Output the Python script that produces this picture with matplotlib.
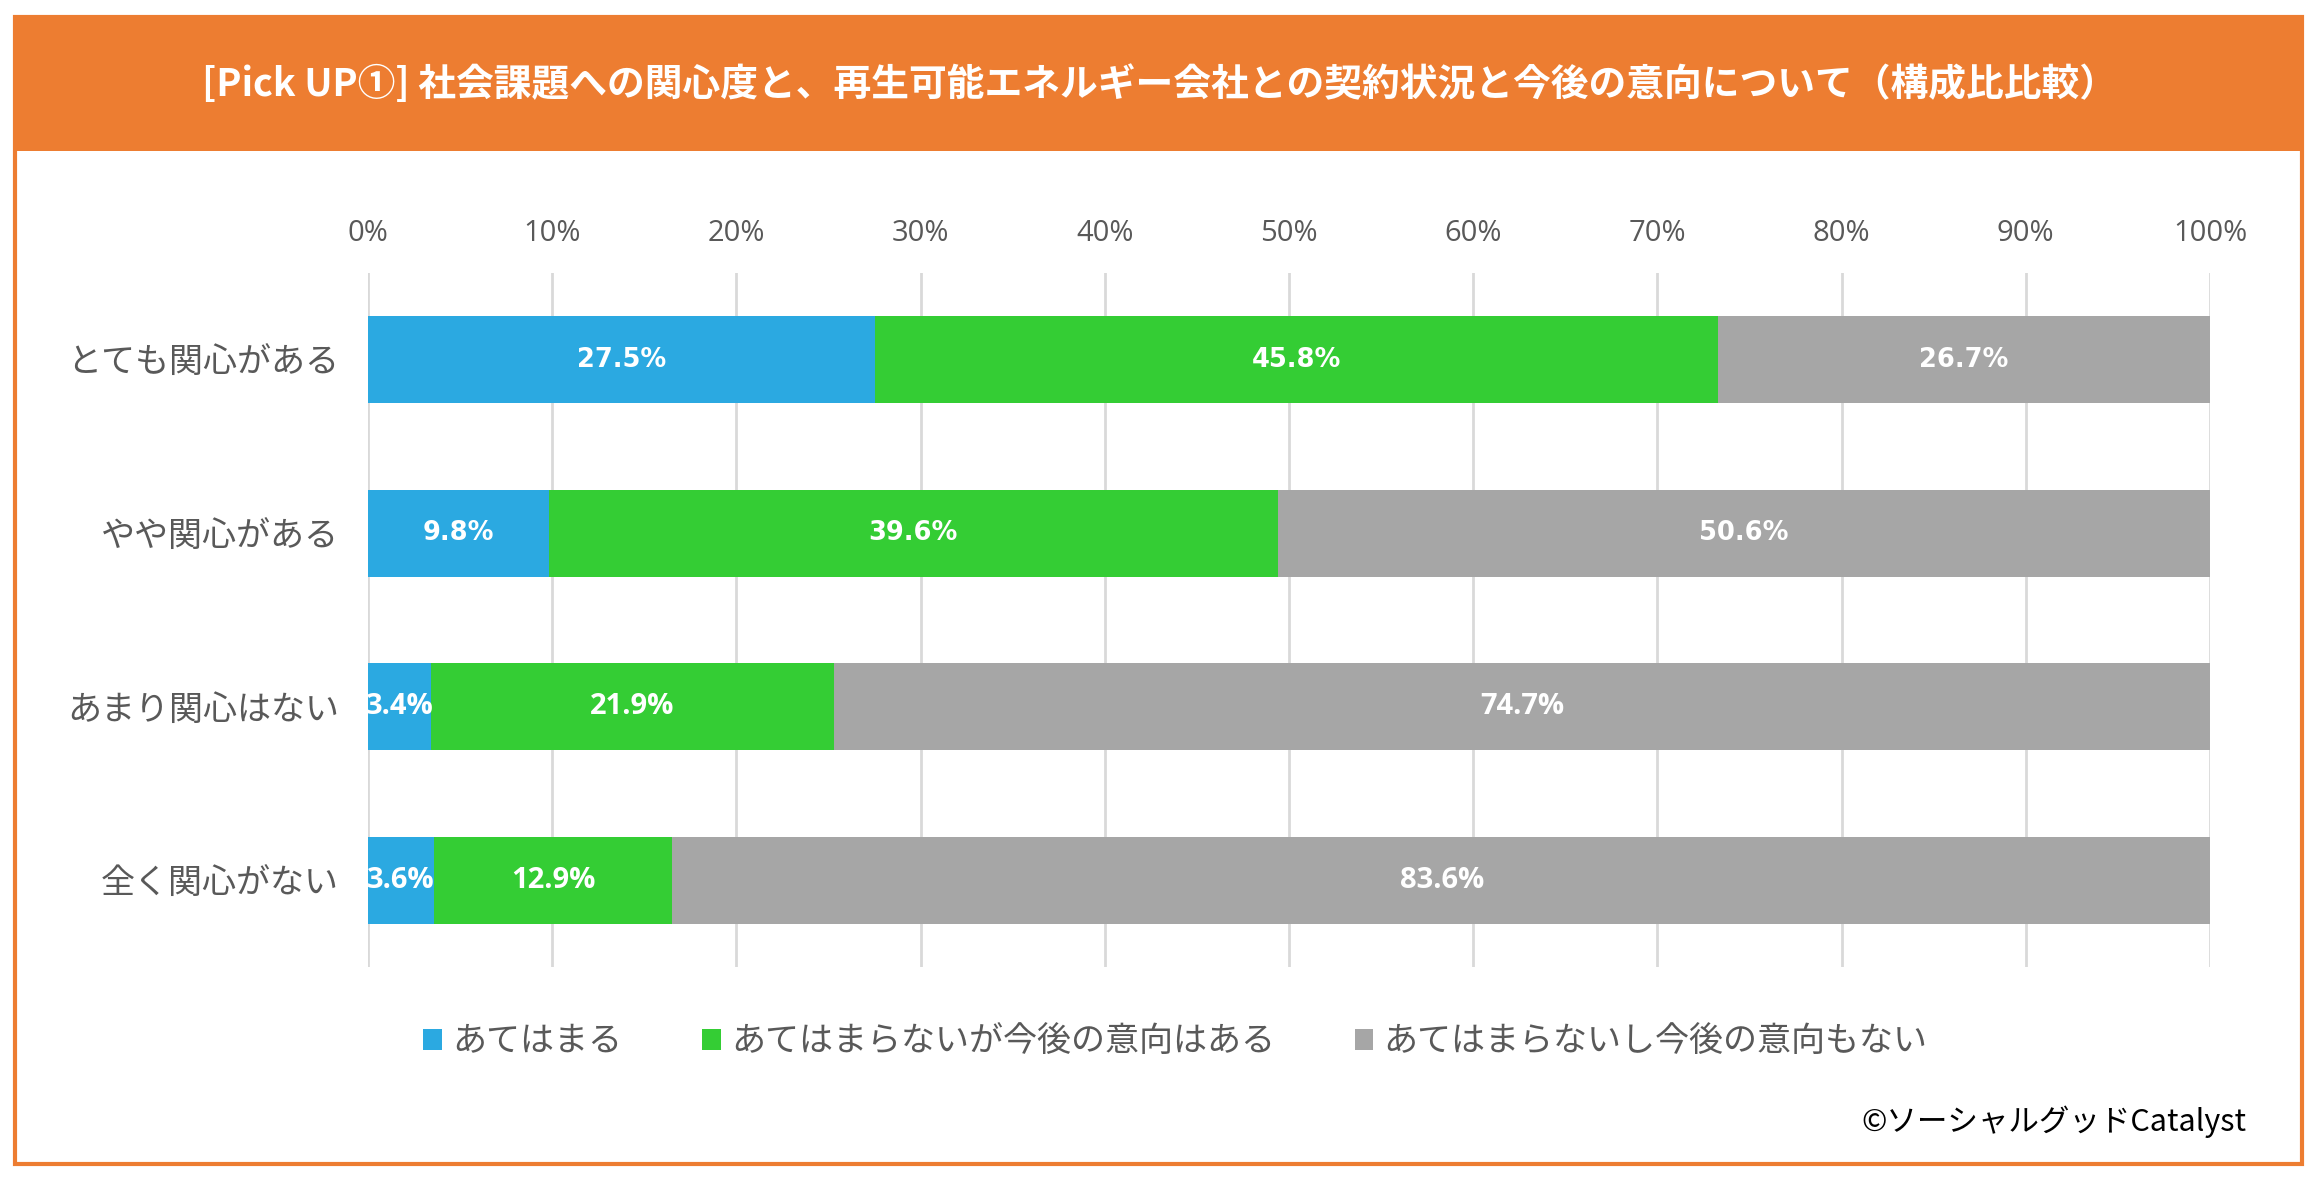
import matplotlib
matplotlib.use("Agg")
import matplotlib.pyplot as plt
from matplotlib.patches import Rectangle, Patch
import numpy as np

# ---- data ----
categories = ["とても関心がある", "やや関心がある", "あまり関心はない", "全く関心がない"]
series_names = ["あてはまる", "あてはまらないが今後の意向はある", "あてはまらないし今後の意向もない"]
v_apply = [27.5, 9.8, 3.4, 3.6]
v_future = [45.8, 39.6, 21.9, 12.9]
v_none = [26.7, 50.6, 74.7, 83.6]
x_ticks = [0, 10, 20, 30, 40, 50, 60, 70, 80, 90, 100]
x_ticklabels = [f"{t}%" for t in x_ticks]
title = "[Pick UP①] 社会課題への関心度と、再生可能エネルギー会社との契約状況と今後の意向について（構成比比較）"
credit = "©ソーシャルグッドCatalyst"

colors = ["#2BA9E1", "#34CD34", "#A6A6A6"]
ORANGE = "#ED7D31"
GRAY_TXT = "#595959"
JP = ["Noto Sans CJK JP", "DejaVu Sans"]

W, H = 2315, 1182
fig = plt.figure(figsize=(W / 100, H / 100), dpi=100)

# frame and header
fig.patches.append(Rectangle((15 / W, 1 - 1164 / H), (2302 - 15) / W, (1164 - 17) / H,
                             transform=fig.transFigure, facecolor="none",
                             edgecolor=ORANGE, linewidth=3, zorder=0))
fig.patches.append(Rectangle((15 / W, 1 - 151 / H), (2302 - 15) / W, (151 - 17) / H,
                             transform=fig.transFigure, facecolor=ORANGE,
                             edgecolor="none", zorder=1))
fig.text(1160 / W, 1 - 84 / H, title, color="white", fontsize=27.2, fontweight="bold",
         family=JP, ha="center", va="center", zorder=3)

ax = fig.add_axes([368 / W, 1 - 967 / H, (2210 - 368) / W, (967 - 273) / H])
ax.set_zorder(5)
ax.patch.set_alpha(0)
y = np.arange(len(categories))
series = [v_apply, v_future, v_none]
left = np.zeros(len(categories))
for vals, col, name in zip(series, colors, series_names):
    ax.barh(y, vals, left=left, height=0.5, color=col, label=name, zorder=3)
    for i, (l, v) in enumerate(zip(left, vals)):
        fam = ["DejaVu Sans"] if i < 2 else ["Open Sans", "DejaVu Sans"]
        fs = 18.5 if i < 2 else 21
        ax.text(l + v / 2, i, f"{v:.1f}%", ha="center", va="center", color="white",
                fontsize=fs, fontweight="bold", family=fam, zorder=4, clip_on=True)
    left = left + np.array(vals)

ax.set_xlim(0, 100)
ax.set_ylim(3.5, -0.5)
ax.set_xticks(x_ticks)
ax.set_xticklabels(x_ticklabels, family=["Open Sans", "DejaVu Sans"], fontsize=21, color=GRAY_TXT)
ax.xaxis.tick_top()
ax.tick_params(axis="x", length=0, pad=18)
ax.set_yticks(y)
ax.set_yticklabels(categories, family=JP, fontsize=24.5, color=GRAY_TXT)
ax.tick_params(axis="y", length=0, pad=21)
ax.grid(axis="x", color="#D9D9D9", linewidth=2, zorder=0)
for s in ax.spines.values():
    s.set_visible(False)

handles = [Patch(facecolor=c, edgecolor="none") for c in colors]
leg = fig.legend(handles, series_names, loc="center left",
                 bbox_to_anchor=(423 / W, 1 - 1042 / H), ncol=3, frameon=False,
                 prop={"family": JP, "size": 24.5}, handlelength=0.55, handleheight=0.55,
                 handletextpad=0.3, columnspacing=2.35, borderaxespad=0, borderpad=0)
for t in leg.get_texts():
    t.set_color(GRAY_TXT)

fig.text(2246 / W, 1 - 1122 / H, credit, ha="right", va="center", fontsize=22,
         color="black", family=JP)

fig.savefig("out.png", dpi=100)
